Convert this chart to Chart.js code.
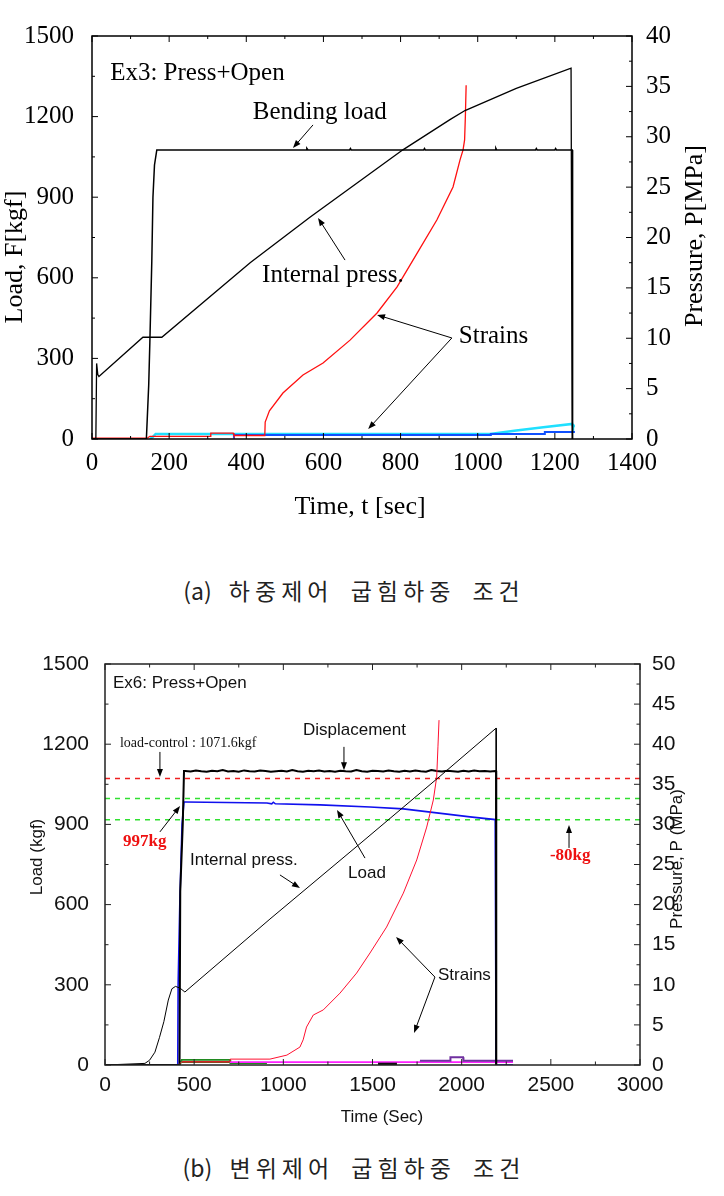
<!DOCTYPE html>
<html>
<head>
<meta charset="utf-8">
<script src="https://cdn.jsdelivr.net/npm/chart.js@4.4.1/dist/chart.umd.min.js"></script>
<style>
  html, body { margin: 0; padding: 0; background: #fff; }
  body { width: 724px; height: 1196px; position: relative; overflow: hidden; }
  canvas { position: absolute; left: 0; }
  #chartA { top: 0; }
  #chartB { top: 620px; }
  .caption { position: absolute; left: 0; width: 708px; text-align: center;
             font-family: "Noto Sans CJK KR", sans-serif; font-size: 23px;
             letter-spacing: 5px; word-spacing: 7px; color: #222; line-height: 34px; }
  .caption span { letter-spacing: 0; }
</style>
</head>
<body>
<canvas id="chartA" width="724" height="545"></canvas>
<div class="caption" style="top:573px"><span>(a)</span> 하중제어 굽힘하중 조건</div>
<canvas id="chartB" width="724" height="520"></canvas>
<div class="caption" style="top:1150px"><span>(b)</span> 변위제어 굽힘하중 조건</div>
<script>
// ---- (a) 하중제어 : Ex3 ----
const timeTicksA = [0, 200, 400, 600, 800, 1000, 1200, 1400];
const loadTicksA = [0, 300, 600, 900, 1200, 1500];
const pressTicksA = [0, 5, 10, 15, 20, 25, 30, 35, 40];

// bending load [kgf]
const bendT = [0, 141, 147, 150, 155, 158, 162, 168, 400, 555, 557, 560, 668, 670, 672, 860, 862, 864, 1045, 1047, 1049, 1150, 1152, 1154, 1200, 1202, 1204, 1245, 1246];
const bendF = [0, 0, 200, 360, 660, 900, 1020, 1076, 1076, 1076, 1082, 1076, 1076, 1081, 1076, 1076, 1081, 1076, 1076, 1082, 1076, 1076, 1081, 1076, 1076, 1081, 1076, 1076, 0];
// internal pressure [MPa]
const pressAT = [0, 10, 12, 15, 18, 132, 181, 410, 565, 806, 928, 967, 1100, 1242, 1245];
const pressAP = [0, 0, 7.5, 6.4, 6.2, 10.1, 10.1, 17.5, 22.0, 28.7, 31.7, 32.6, 34.8, 36.8, 0];
// strains
const redAT = [0, 143, 150, 306, 308, 366, 368, 448, 449, 460, 495, 547, 599, 669, 739, 791, 843, 894, 936, 954, 962, 966, 968, 970];
const redAV = [3, 3, 10, 10, 22, 22, 13, 13, 63, 105, 171, 238, 283, 368, 469, 566, 692, 815, 938, 1038, 1076, 1113, 1200, 1317];
const cyanAT = [150, 158, 165, 1032, 1100, 1170, 1245, 1247, 1252];
const cyanAV = [0, 8, 19, 19, 32, 44, 56, 48, 48];
const blueAT = [366, 368, 1032, 1034, 1172, 1174, 1252];
const blueAV = [5, 15, 15, 19, 19, 26, 26];

// ---- (b) 변위제어 : Ex6 ----
const timeTicksB = [0, 500, 1000, 1500, 2000, 2500, 3000];
const loadTicksB = [0, 300, 600, 900, 1200, 1500];
const pressTicksB = [0, 5, 10, 15, 20, 25, 30, 35, 40, 45, 50];

const dispT = [0, 418, 422, 436, 443,
    450, 480, 510, 540, 570, 600, 630, 660, 690, 720, 750, 780, 810, 840, 870, 900, 930, 960, 990, 1020,
    1050, 1080, 1110, 1140, 1170, 1200, 1230, 1260, 1290, 1320, 1350, 1380, 1410, 1440, 1470, 1500, 1530, 1560, 1590, 1620,
    1650, 1680, 1710, 1740, 1770, 1800, 1830, 1860, 1890, 1920, 1950, 1980, 2010, 2040, 2070, 2100, 2130, 2160, 2190,
    2193, 2194];
const dispF = [0, 0, 650, 900, 1100,
    1100, 1098, 1102, 1099, 1097, 1101, 1099, 1103, 1098, 1100, 1097, 1102, 1099, 1098, 1102, 1100, 1097, 1099, 1101, 1098,
    1103, 1099, 1097, 1101, 1099, 1102, 1098, 1100, 1097, 1101, 1099, 1098, 1103, 1099, 1097, 1101, 1100, 1098, 1102, 1099,
    1097, 1101, 1098, 1102, 1099, 1097, 1103, 1100, 1098, 1101, 1099, 1097, 1101, 1098, 1102, 1099, 1100, 1098, 1100,
    1100, 0];
const loadBT = [0, 408, 410, 420, 432, 443, 452, 908, 935, 944, 955, 1206, 1486, 1673, 1860, 2047, 2188, 2193, 2288];
const loadBF = [0, 0, 300, 620, 900, 984, 984, 980, 977, 983, 977, 973, 965, 958, 943, 928, 918, 0, 0];
const pressBT = [0, 224, 250, 280, 305, 330, 355, 375, 395, 420, 448, 925, 1441, 1873, 2193, 2194];
const pressBP = [0, 0.2, 0.6, 1.6, 3.4, 5.4, 8.1, 9.5, 9.8, 9.6, 9.1, 18.2, 27.8, 35.9, 42.0, 0];
const redBT = [420, 430, 700, 702, 925, 1020, 1093, 1111, 1130, 1168, 1224, 1318, 1411, 1486, 1579, 1673, 1748, 1804, 1841, 1860, 1867, 1873];
const redBV = [5, 12, 12, 22, 22, 37, 67, 94, 142, 187, 206, 269, 344, 419, 516, 643, 767, 890, 991, 1077, 1190, 1290];
const greenBT = [420, 430, 701, 703, 908];
const greenBV = [0, 19, 19, 7, 7];
const oliveBT = [430, 700];
const oliveBV = [11, 11];
const magBT = [700, 2288];
const magBV = [11, 11];
const purBT = [1766, 1935, 1937, 2008, 2010, 2288];
const purBV = [16, 16, 29, 29, 16, 16];
const darkBT = [1531, 1637];
const darkBV = [3, 3];
const limitLoads = [1071.6, 997, 917];   // load-control, 997kg, 997-80kg

function pts(ts, vs) { return ts.map((t, i) => ({ x: t, y: vs[i] })); }

function line(data, color, width, axis, dash) {
    return { data: data, borderColor: color, borderWidth: width, yAxisID: axis || 'y',
             borderDash: dash || [], pointRadius: 0, tension: 0, fill: false };
}

function fixedTicks(list) {
    return s => { s.ticks = list.map(v => ({ value: v })); };
}

function arrow(ctx, x1, y1, x2, y2) {
    const a = Math.atan2(y2 - y1, x2 - x1);
    ctx.beginPath();
    ctx.moveTo(x1, y1);
    ctx.lineTo(x2 - 6 * Math.cos(a), y2 - 6 * Math.sin(a));
    ctx.stroke();
    ctx.beginPath();
    ctx.moveTo(x2, y2);
    ctx.lineTo(x2 - 8 * Math.cos(a) + 3 * Math.sin(a), y2 - 8 * Math.sin(a) - 3 * Math.cos(a));
    ctx.lineTo(x2 - 8 * Math.cos(a) - 3 * Math.sin(a), y2 - 8 * Math.sin(a) + 3 * Math.cos(a));
    ctx.closePath();
    ctx.fill();
}

// border, inward ticks, axis titles and callouts
function framePlugin(cfg) {
    return {
        id: 'frame',
        afterDraw(chart) {
            const ctx = chart.ctx, a = chart.chartArea;
            const sx = chart.scales.x, sy = chart.scales.y, sy2 = chart.scales.y2;
            ctx.save();
            ctx.strokeStyle = cfg.frameColor;
            ctx.fillStyle = cfg.frameColor;
            ctx.lineWidth = 1;
            const tick = (list, scale, draw) => {
                for (let i = 0; i < list.length; i++) {
                    draw(scale.getPixelForValue(list[i]), cfg.major);
                    if (i < list.length - 1) draw(scale.getPixelForValue((list[i] + list[i + 1]) / 2), cfg.minor);
                }
            };
            ctx.beginPath();
            tick(cfg.xTicks, sx, (p, l) => { ctx.moveTo(p, a.bottom); ctx.lineTo(p, a.bottom - l); ctx.moveTo(p, a.top); ctx.lineTo(p, a.top + l); });
            tick(cfg.yTicks, sy, (p, l) => { ctx.moveTo(a.left, p); ctx.lineTo(a.left + l, p); });
            tick(cfg.y2Ticks, sy2, (p, l) => { ctx.moveTo(a.right, p); ctx.lineTo(a.right - l, p); });
            ctx.stroke();
            ctx.lineWidth = cfg.frameWidth;
            ctx.strokeRect(a.left, a.top, a.right - a.left, a.bottom - a.top);

            // axis titles
            ctx.fillStyle = cfg.textColor;
            ctx.textBaseline = 'middle';
            ctx.textAlign = 'center';
            ctx.font = cfg.titleFont;
            cfg.titles.forEach(t => {
                ctx.save();
                ctx.translate(t.x, t.y);
                if (t.rot) ctx.rotate(-Math.PI / 2);
                ctx.fillText(t.text, 0, 0);
                ctx.restore();
            });

            // callouts, placed in data units
            ctx.textAlign = 'left';
            ctx.lineWidth = 1;
            cfg.notes.forEach(n => {
                ctx.font = n.font || cfg.noteFont;
                ctx.fillStyle = n.color || cfg.textColor;
                ctx.fillText(n.text, sx.getPixelForValue(n.t), sy.getPixelForValue(n.v));
            });
            ctx.strokeStyle = '#000';
            ctx.fillStyle = '#000';
            cfg.arrows.forEach(r => {
                arrow(ctx, sx.getPixelForValue(r[0]), sy.getPixelForValue(r[1]),
                      sx.getPixelForValue(r[2]), sy.getPixelForValue(r[3]));
            });
            ctx.restore();
        }
    };
}

function axes(o) {
    const common = { type: 'linear', grid: { display: false }, border: { display: false } };
    const plain = v => String(v);
    return {
        x: Object.assign({}, common, { min: o.xTicks[0], max: o.xTicks[o.xTicks.length - 1],
            afterBuildTicks: fixedTicks(o.xTicks), afterFit: s => { s.height = o.xH; },
            ticks: { font: o.tickFont, color: o.tickColor, padding: o.xPad, maxRotation: 0, autoSkip: false, callback: plain } }),
        y: Object.assign({}, common, { position: 'left', min: 0, max: o.yTicks[o.yTicks.length - 1],
            afterBuildTicks: fixedTicks(o.yTicks), afterFit: s => { s.width = o.yW; },
            ticks: { font: o.tickFont, color: o.tickColor, padding: o.yPad, autoSkip: false, callback: plain } }),
        y2: Object.assign({}, common, { position: 'right', min: 0, max: o.y2Ticks[o.y2Ticks.length - 1],
            afterBuildTicks: fixedTicks(o.y2Ticks), afterFit: s => { s.width = o.y2W; },
            ticks: { font: o.tickFont, color: o.tickColor, padding: o.y2Pad, autoSkip: false, callback: plain } })
    };
}

const serif = 'Liberation Serif';
const sans = 'Liberation Sans';

new Chart(document.getElementById('chartA'), {
    type: 'line',
    data: {
        datasets: [
            line(pts(bendT, bendF), '#000', 1.5),
            line(pts(pressAT, pressAP), '#000', 1.3, 'y2'),
            line(pts(redAT, redAV), '#ff1010', 1.3),
            line(pts(blueAT, blueAV), '#1050ff', 2),
            line(pts(cyanAT, cyanAV), '#20e0ff', 2.5)
        ]
    },
    options: {
        responsive: false, animation: false, events: [],
        layout: { padding: { top: 36, left: 0, right: 0, bottom: 0 } },
        plugins: { legend: { display: false }, tooltip: { enabled: false } },
        scales: axes({ xTicks: timeTicksA, yTicks: loadTicksA, y2Ticks: pressTicksA,
                       xH: 106, yW: 92, y2W: 92, xPad: 1, yPad: 10, y2Pad: 6,
                       tickFont: { family: serif, size: 25 }, tickColor: '#000' })
    },
    plugins: [framePlugin({
        frameColor: '#000', frameWidth: 1.5, textColor: '#000', major: 6, minor: 3,
        xTicks: timeTicksA, yTicks: loadTicksA, y2Ticks: pressTicksA,
        titleFont: '26px "Liberation Serif"', noteFont: '25px "Liberation Serif"',
        titles: [
            { text: 'Load, F[kgf]', x: 15, y: 257, rot: true },
            { text: 'Pressure, P[MPa]', x: 695, y: 236, rot: true },
            { text: 'Time, t [sec]', x: 360, y: 507 }
        ],
        notes: [
            { text: 'Ex3: Press+Open', t: 47, v: 1362 },
            { text: 'Bending load', t: 417, v: 1217 },
            { text: 'Internal press.', t: 441, v: 610 },
            { text: 'Strains', t: 951, v: 380 }
        ],
        arrows: [
            [573, 1169, 521, 1083],
            [656, 666, 586, 823],
            [933, 376, 739, 462],
            [933, 376, 716, 37]
        ]
    })]
});

new Chart(document.getElementById('chartB'), {
    type: 'line',
    data: {
        datasets: [
            line(pts(pressBT, pressBP), '#000', 1, 'y2'),
            line(pts(redBT, redBV), '#ff1030', 1),
            line(pts(dispT, dispF), '#000', 2),
            line(pts(loadBT, loadBF), '#1010ee', 1.6),
            line(pts([0, 3000], [limitLoads[0], limitLoads[0]]), '#ee2020', 1.5, 'y', [5, 5]),
            line(pts([0, 3000], [limitLoads[1], limitLoads[1]]), '#30e030', 1.5, 'y', [5, 5]),
            line(pts([0, 3000], [limitLoads[2], limitLoads[2]]), '#30e030', 1.5, 'y', [5, 5]),
            line(pts(purBT, purBV), '#7030a0', 2),
            line(pts(darkBT, darkBV), '#111', 3),
            line(pts(magBT, magBV), '#ff20ff', 1.8),
            line(pts(greenBT, greenBV), '#208a20', 1.8),
            line(pts(oliveBT, oliveBV), '#6b5a1a', 2)
        ]
    },
    options: {
        responsive: false, animation: false, events: [],
        layout: { padding: { top: 44, left: 0, right: 0, bottom: 0 } },
        plugins: { legend: { display: false }, tooltip: { enabled: false } },
        scales: axes({ xTicks: timeTicksB, yTicks: loadTicksB, y2Ticks: pressTicksB,
                       xH: 75, yW: 105, y2W: 84, xPad: 0, yPad: 8, y2Pad: 4,
                       tickFont: { family: sans, size: 21 }, tickColor: '#111' })
    },
    plugins: [framePlugin({
        frameColor: '#222', frameWidth: 1.5, textColor: '#111', major: 6, minor: 3.5,
        xTicks: timeTicksB, yTicks: loadTicksB, y2Ticks: pressTicksB,
        titleFont: '17px "Liberation Sans"', noteFont: '17px "Liberation Sans"',
        titles: [
            { text: 'Load (kgf)', x: 37, y: 237, rot: true },
            { text: 'Pressure, P (MPa)', x: 677, y: 239, rot: true },
            { text: 'Time (Sec)', x: 382, y: 497 }
        ],
        notes: [
            { text: 'Ex6: Press+Open', t: 45, v: 1429 },
            { text: 'load-control : 1071.6kgf', t: 84, v: 1204, font: '14px "Liberation Serif"' },
            { text: 'Displacement', t: 1110, v: 1253 },
            { text: '997kg', t: 101, v: 834, font: 'bold 17px "Liberation Serif"', color: '#ee1111' },
            { text: 'Internal press.', t: 477, v: 767 },
            { text: 'Load', t: 1363, v: 718 },
            { text: '-80kg', t: 2495, v: 782, font: 'bold 17px "Liberation Serif"', color: '#ee1111' },
            { text: 'Strains', t: 1867, v: 337 }
        ],
        arrows: [
            [308, 1171, 308, 1077],
            [1340, 1190, 1340, 1103],
            [308, 872, 421, 969],
            [981, 711, 1093, 662],
            [1458, 774, 1301, 954],
            [2602, 812, 2602, 898],
            [1850, 329, 1632, 479],
            [1850, 329, 1733, 120]
        ]
    })]
});
</script>
</body>
</html>
